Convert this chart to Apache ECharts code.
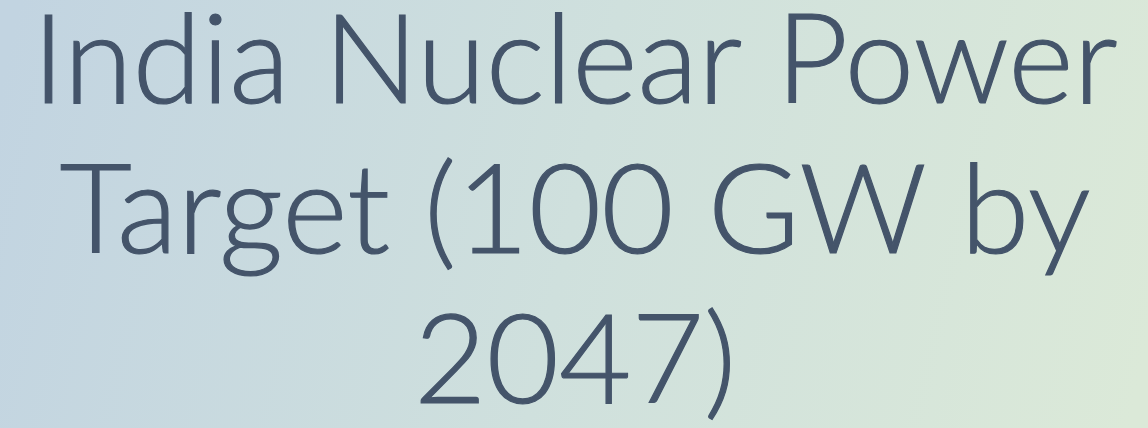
<!DOCTYPE html>
<html>
<head>
<meta charset="utf-8">
<script src="https://cdn.jsdelivr.net/npm/echarts@6/dist/echarts.min.js"></script>
<style>
html, body { margin: 0; padding: 0; }
#chart { width: 1148px; height: 428px; }
</style>
</head>
<body>
<div id="chart"></div>
<script>
// title lines as shown on the slide
var titleLines = ['India Nuclear Power', 'Target (100 GW by', '2047)']

var chart = echarts.init(document.getElementById('chart'))
var option = {
  backgroundColor: new echarts.graphic.LinearGradient(0, 0.2, 1, 0.8, [
    { offset: 0, color: '#c2d4e1' },
    { offset: 0.5, color: '#cfe0dd' },
    { offset: 1, color: '#dbe9d8' }
  ]),
  graphic: [
    {
      type: 'text',
      x: 575,
      y: -12,
      style: {
        text: titleLines.join('\n'),
        align: 'center',
        verticalAlign: 'top',
        fontFamily: 'Lato',
        fontWeight: 300,
        fontSize: 125,
        lineHeight: 150,
        fill: '#44546a',
        stroke: '#44546a',
        lineWidth: 1.2
      }
    }
  ],
  series: []
}
chart.setOption(option)
</script>
</body>
</html>
